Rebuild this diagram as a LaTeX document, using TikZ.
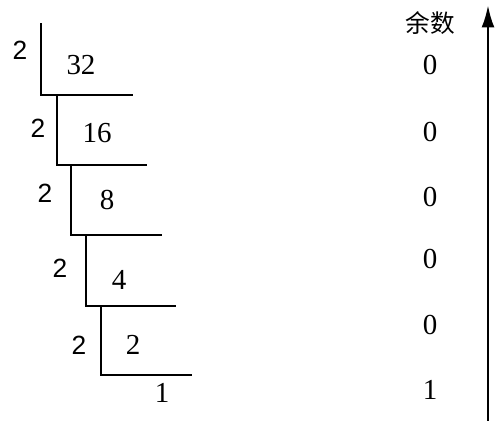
\documentclass[tikz,border=0pt]{standalone}
\usepackage{fontspec}
\setmainfont{Liberation Serif}
\newfontfamily\cjk{Noto Sans CJK SC}
\newfontfamily\divfont{Liberation Sans}
\usetikzlibrary{arrows.meta}

\begin{document}
\begin{tikzpicture}[
	bar/.style={line width=0.55mm, line cap=rect},
	num/.style={font=\fontsize{16.5}{18}\selectfont, inner sep=0pt},
	dv/.style={font=\divfont\fontsize{15}{17}\selectfont, inner sep=0pt}]
			%%%%% START %%%%%
			
			\useasboundingbox (0, 0) rectangle (9.9, 8.46);
			
			% division brackets
			\coordinate (t1) at (0.82, 7.98);
			\coordinate (c1) at (0.82, 6.56);
			\coordinate (e1) at (2.64, 6.56);
			\draw[bar] (t1) -- (c1) -- (e1);
			
			\coordinate (t2) at (1.14, 6.56);
			\coordinate (c2) at (1.14, 5.16);
			\coordinate (e2) at (2.92, 5.16);
			\draw[bar] (t2) -- (c2) -- (e2);
			
			\coordinate (t3) at (1.42, 5.16);
			\coordinate (c3) at (1.42, 3.76);
			\coordinate (e3) at (3.22, 3.76);
			\draw[bar] (t3) -- (c3) -- (e3);
			
			\coordinate (t4) at (1.72, 3.76);
			\coordinate (c4) at (1.72, 2.34);
			\coordinate (e4) at (3.50, 2.34);
			\draw[bar] (t4) -- (c4) -- (e4);
			
			\coordinate (t5) at (2.02, 2.34);
			\coordinate (c5) at (2.02, 0.96);
			\coordinate (e5) at (3.82, 0.96);
			\draw[bar] (t5) -- (c5) -- (e5);
			
			% divisors
			\node[dv] (d1) at (0.40, 7.46) {2};
			\node[dv] (d2) at (0.76, 5.90) {2};
			\node[dv] (d3) at (0.90, 4.60) {2};
			\node[dv] (d4) at (1.20, 3.10) {2};
			\node[dv] (d5) at (1.58, 1.56) {2};
			
			% quotients
			\node[num] (q1) at (1.62, 7.16) {32};
			\node[num] (q2) at (1.94, 5.80) {16};
			\node[num] (q3) at (2.14, 4.46) {8};
			\node[num] (q4) at (2.38, 2.86) {4};
			\node[num] (q5) at (2.66, 1.56) {2};
			\node[num] (q6) at (3.24, 0.60) {1};
			
			% remainders
			\node[font=\cjk\fontsize{14}{16}\selectfont, inner sep=0pt] (rhead) at (8.60, 8.00) {余数};
			\node[num] (r1) at (8.60, 7.16) {0};
			\node[num] (r2) at (8.60, 5.82) {0};
			\node[num] (r3) at (8.60, 4.52) {0};
			\node[num] (r4) at (8.60, 3.28) {0};
			\node[num] (r5) at (8.60, 1.96) {0};
			\node[num] (r6) at (8.60, 0.66) {1};
			
			\coordinate (abot) at (9.76, 0.04);
			\coordinate (atop) at (9.76, 8.36);
			\draw[line width=0.55mm, -{Latex[length=4.5mm, width=2.6mm]}] (abot) -- (atop);
			
			%%%%% END %%%%%
\end{tikzpicture}
\end{document}
